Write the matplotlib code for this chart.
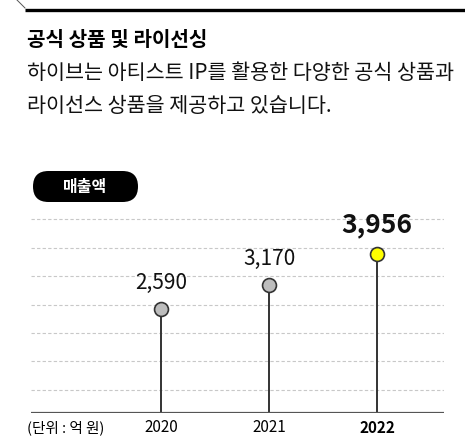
import numpy as np
import matplotlib.pyplot as plt
from matplotlib.patches import FancyBboxPatch

plt.rcParams['font.family'] = ['Noto Sans CJK KR', 'DejaVu Sans']

# data (억 원)
years = ['2020', '2021', '2022']
sales = [2590, 3170, 3956]
value_labels = ['2,590', '3,170', '3,956']
grid_levels = [570, 1280, 1990, 2690, 3400, 4100, 4810]

title = '공식 상품 및 라이선싱'
desc = ['하이브는 아티스트 IP를 활용한 다양한 공식 상품과', '라이선스 상품을 제공하고 있습니다.']
badge = '매출액'
unit = '(단위 : 억 원)'

W, H = 465, 438
fig = plt.figure(figsize=(W / 100, H / 100), dpi=100)

# overlay axes in pixel units for the header decoration
bg = fig.add_axes([0, 0, 1, 1])
bg.set_xlim(0, W)
bg.set_ylim(H, 0)
bg.axis('off')

bg.plot([25, 465], [9.5, 9.5], color='black', lw=2.4, solid_capstyle='butt')
bg.plot([17, 25], [0, 8], color='#555555', lw=0.7)

bg.text(27, 39, title, fontsize=14.5, fontweight='bold', va='center', ha='left')
bg.text(27, 73, desc[0], fontsize=14.9, va='center', ha='left', color='#111111')
bg.text(27, 106, desc[1], fontsize=14.9, va='center', ha='left', color='#111111')

pill = FancyBboxPatch((33, 171), 105, 31, boxstyle='round,pad=0,rounding_size=15.5',
                      facecolor='black', edgecolor='none')
bg.add_patch(pill)
bg.text(85.5, 187, badge, fontsize=11.5, fontweight='bold', color='white',
        va='center', ha='center')

# main plot
ax = fig.add_axes([31 / W, 1 - 413 / H, 413 / W, (413 - 205) / H])
x = np.arange(len(years))
ax.set_xlim(-1.204, 2.62)
ax.set_ylim(0, (413 - 205) / 0.0403)
for g in grid_levels:
    ax.axhline(g, color='#c8c8c8', lw=0.8, ls=(0, (3, 2)), zorder=1)
ax.axhline(0, color='#555555', lw=1.6, zorder=3)

colors = ['#bdbdbd', '#bdbdbd', '#ffff00']
for i, (xi, v) in enumerate(zip(x, sales)):
    ax.plot([xi, xi], [0, v], color='#333333', lw=1.4, zorder=2)
    ax.plot(xi, v, 'o', ms=10, mfc=colors[i], mec='#333333', mew=1.2, zorder=4)
    last = i == len(sales) - 1
    ax.annotate(value_labels[i], (xi, v), xytext=(0, 29 if last else 26),
                textcoords='offset pixels', ha='center', va='center',
                fontsize=19 if last else 15,
                fontweight='bold' if last else 'normal', color='#111111')

for s in ax.spines.values():
    s.set_visible(False)
ax.set_xticks([])
ax.set_yticks([])

for i, (xi, yr) in enumerate(zip(x, years)):
    ax.annotate(yr, (xi, 0), xytext=(0, -15), textcoords='offset pixels',
                ha='center', va='center', fontsize=11,
                fontweight='bold' if i == len(years) - 1 else 'normal')
bg.text(27, 428, unit, fontsize=10.5, va='center', ha='left')

fig.savefig('out.png', dpi=100)
